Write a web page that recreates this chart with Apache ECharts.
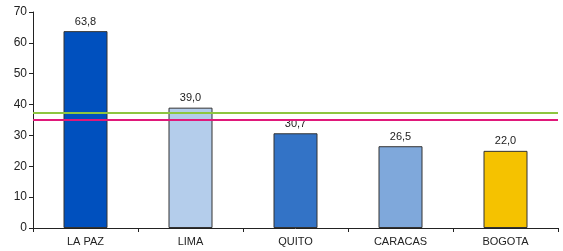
<!DOCTYPE html>
<html>
<head>
<meta charset="utf-8">
<script src="https://cdn.jsdelivr.net/npm/echarts@6/dist/echarts.min.js"></script>
<style>
  html, body { margin: 0; padding: 0; background: #fff; }
  #chart { width: 563px; height: 251px; }
</style>
</head>
<body>
<div id="chart"></div>
<script>
// chart data
const cities = ['LA PAZ', 'LIMA', 'QUITO', 'CARACAS', 'BOGOTA'];
const barValues = [63.8, 39.0, 30.7, 26.5, 25.0];
const barLabels = ['63,8', '39,0', '30,7', '26,5', '22,0'];
const barColors = ['#0050BE', '#B4CDEB', '#3373C6', '#7FA8DB', '#F5C200'];
const refLines = [37.5, 35.0];
const refColors = ['#8DC63F', '#E0187A'];

const chart = echarts.init(document.getElementById('chart'));

const font = 'Liberation Sans, Arial, sans-serif';

chart.setOption({
  animation: false,
  backgroundColor: '#fff',
  grid: { left: 33, right: 5, top: 12, bottom: 23 },
  xAxis: {
    type: 'category',
    data: cities,
    axisLine: { lineStyle: { color: '#222', width: 1 } },
    axisTick: { show: true, length: 4, lineStyle: { color: '#222' } },
    axisLabel: { color: '#222', fontFamily: font, fontSize: 11, margin: 8 }
  },
  yAxis: {
    type: 'value',
    min: 0,
    max: 70,
    interval: 10,
    splitLine: { show: false },
    axisLine: { show: true, lineStyle: { color: '#222', width: 1 } },
    axisTick: { show: true, length: 4, lineStyle: { color: '#222' } },
    axisLabel: { color: '#222', fontFamily: font, fontSize: 12, margin: 6 }
  },
  series: [{
    type: 'bar',
    barWidth: 44,
    data: barValues.map((v, i) => ({
      value: v,
      itemStyle: { color: barColors[i], borderColor: '#333', borderWidth: 1 }
    })),
    label: {
      show: true,
      position: 'top',
      distance: 4,
      color: '#222',
      fontFamily: font,
      fontSize: 11,
      formatter: (p) => barLabels[p.dataIndex]
    },
    markLine: {
      silent: true,
      symbol: 'none',
      label: { show: false },
      data: refLines.map((v, i) => ({
        yAxis: v,
        lineStyle: { color: refColors[i], width: 2, type: 'solid' }
      }))
    }
  }]
});
</script>
</body>
</html>
